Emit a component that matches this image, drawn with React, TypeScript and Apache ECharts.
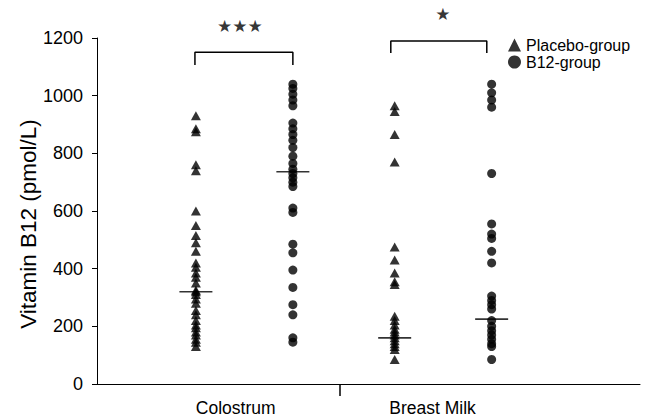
import React, { useEffect, useRef } from "react";
import * as echarts from "echarts";

// group x positions (in axis units) for the four columns
const groupX = [1.02, 2.02, 3.07, 4.07];
const categoryLabels = ["Colostrum", "Breast Milk"];
const categoryLabelX = [1.43, 3.46];
const separatorX = [2.5];

const placeboColostrum = [930, 885, 875, 760, 740, 600, 550, 515, 490, 460, 420, 405, 385, 370, 350, 325, 320, 310, 295, 280, 255, 240, 220, 205, 195, 180, 170, 155, 145, 130];
const b12Colostrum = [1040, 1025, 1005, 985, 965, 905, 885, 865, 845, 820, 790, 765, 745, 730, 715, 700, 685, 610, 595, 485, 455, 395, 335, 275, 240, 160, 145];
const placeboMilk = [965, 945, 865, 770, 475, 430, 385, 355, 345, 235, 220, 205, 190, 180, 170, 160, 150, 140, 130, 120, 85];
const b12Milk = [1040, 1010, 985, 960, 730, 555, 520, 505, 460, 420, 305, 290, 275, 260, 220, 200, 185, 170, 155, 140, 130, 85];
const medians = [320, 736, 160, 225];

const yTicks = { min: 0, max: 1200, interval: 200 };
const brackets = [
  { x0: 1.01, x1: 2.02, low: 1106, high: 1151 },
  { x0: 3.03, x1: 4.02, low: 1148, high: 1190 },
];
const stars = [
  { x: 1.474, y: 1241, text: "★★★" },
  { x: 3.567, y: 1283, text: "★" },
];

const FONT = "'Liberation Sans', Arial, sans-serif";

export default function App() {
  const ref = useRef<HTMLDivElement>(null);
  useEffect(() => {
    if (!ref.current) return;
    const chart = echarts.init(ref.current, undefined, { renderer: "svg" });
    const pts = (x: number, vals: number[]) => vals.map((v) => [x, v]);
    const option: any = {
      animation: false,
      backgroundColor: "#fff",
      textStyle: { fontFamily: FONT },
      grid: { left: 97, right: 11, top: 38, bottom: 34 },
      legend: {
        orient: "vertical",
        left: 503,
        top: 32,
        itemWidth: 13,
        itemHeight: 13,
        itemGap: 1,
        textStyle: { fontSize: 16, color: "#000", fontFamily: FONT },
        data: [
          { name: "Placebo-group", icon: "triangle" },
          { name: "B12-group", icon: "circle" },
        ],
      },
      xAxis: {
        type: "value",
        min: 0,
        max: 5.6,
        splitLine: { show: false },
        axisLine: { lineStyle: { color: "#000", width: 1 } },
        axisTick: { show: true, inside: false, length: 12, customValues: separatorX, lineStyle: { color: "#000", width: 1.5 } },
        axisLabel: {
          customValues: categoryLabelX,
          margin: 15,
          fontSize: 17.5,
          color: "#000",
          fontFamily: FONT,
          formatter: (v: number) => (v < separatorX[0] ? categoryLabels[0] : categoryLabels[1]),
        },
      },
      yAxis: {
        type: "value",
        min: yTicks.min,
        max: yTicks.max,
        interval: yTicks.interval,
        splitLine: { show: false },
        axisLine: { show: true, lineStyle: { color: "#000", width: 1 } },
        axisTick: { show: true, length: 5, lineStyle: { color: "#000" } },
        axisLabel: { fontSize: 18, color: "#000", margin: 14, fontFamily: FONT, formatter: (v: number) => String(v) },
      },
      graphic: [
        {
          type: "text",
          x: 28,
          y: 224,
          rotation: Math.PI / 2,
          style: {
            text: "Vitamin B12 (pmol/L)",
            fontSize: 22.5,
            fontFamily: FONT,
            fill: "#000",
            align: "center",
            verticalAlign: "middle",
          },
        },
      ],
      series: [
        {
          name: "Placebo-group",
          type: "scatter",
          symbol: "triangle",
          symbolSize: [10, 9],
          itemStyle: { color: "#000" },
          data: [...pts(groupX[0], placeboColostrum), ...pts(groupX[2], placeboMilk)],
        },
        {
          name: "B12-group",
          type: "scatter",
          symbol: "circle",
          symbolSize: 9,
          itemStyle: { color: "#000" },
          data: [...pts(groupX[1], b12Colostrum), ...pts(groupX[3], b12Milk)],
        },
        {
          name: "median",
          type: "scatter",
          symbol: "rect",
          symbolSize: [33, 1.6],
          itemStyle: { color: "#000" },
          z: 5,
          data: medians.map((m, i) => [groupX[i], m]),
        },
        ...brackets.map((b) => ({
          name: "bracket",
          type: "line",
          symbol: "none",
          clip: false,
          lineStyle: { color: "#000", width: 1.5 },
          data: [
            [b.x0, b.low],
            [b.x0, b.high],
            [b.x1, b.high],
            [b.x1, b.low],
          ],
        })),
        {
          name: "stars",
          type: "scatter",
          symbolSize: 0,
          clip: false,
          label: {
            show: true,
            position: "inside",
            fontSize: 17,
            color: "#000",
            fontFamily: "'DejaVu Sans', sans-serif",
            formatter: (p: any) => stars[p.dataIndex].text,
          },
          data: stars.map((s) => [s.x, s.y]),
        },
      ],
    };
    chart.setOption(option);
    return () => chart.dispose();
  }, []);
  return <div ref={ref} style={{ width: 651, height: 418, position: "absolute", left: 0, top: 0 }} />;
}
